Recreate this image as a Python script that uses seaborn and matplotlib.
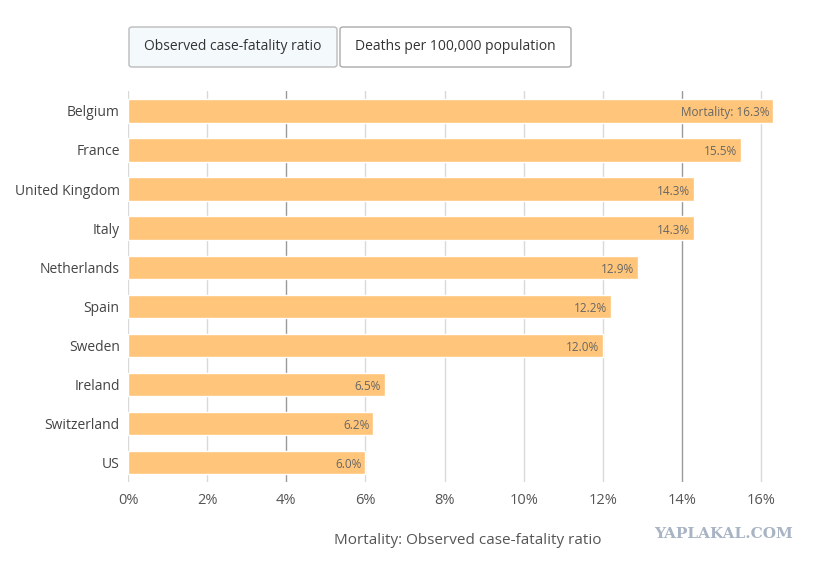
import matplotlib
matplotlib.use("Agg")
import matplotlib.pyplot as plt
import seaborn as sns
import pandas as pd
from matplotlib.patches import FancyBboxPatch

countries = ["Belgium", "France", "United Kingdom", "Italy", "Netherlands",
             "Spain", "Sweden", "Ireland", "Switzerland", "US"]
values = [16.3, 15.5, 14.3, 14.3, 12.9, 12.2, 12.0, 6.5, 6.2, 6.0]
ticks = [0, 2, 4, 6, 8, 10, 12, 14, 16]

df = pd.DataFrame({"country": countries, "value": values})

sns.set_style("white")
plt.rcParams['font.family'] = ['Open Sans', 'DejaVu Sans']

fig = plt.figure(figsize=(8.19, 5.64), dpi=100)
ax = fig.add_axes([0.1563, 0.145, 0.802, 0.693])

sns.barplot(data=df, x="value", y="country", color="#ffc57a", saturation=1,
            width=0.6, ax=ax, zorder=2)

for t in ticks:
    c = "#999999" if t in (4, 14) else "#d9d9d9"
    ax.axvline(t, color=c, lw=1, zorder=1)

for i, v in enumerate(values):
    txt = f"Mortality: {v:.1f}%" if i == 0 else f"{v:.1f}%"
    ax.text(v - 0.1, i + 0.05, txt, ha="right", va="center", fontsize=8.5,
            color="#666666", zorder=3)

ax.set_xlim(0, 16.6)
ax.set_ylim(9.5, -0.5)
ax.set_xticks(ticks)
ax.set_xticklabels([f"{t}%" for t in ticks], fontsize=10.5, color="#555555")
ax.tick_params(axis="y", labelsize=10, labelcolor="#444444", length=0, pad=6)
ax.tick_params(axis="x", length=0, pad=8)
ax.set_ylabel("")
ax.set_xlabel("Mortality: Observed case-fatality ratio", fontsize=11,
              color="#555555")
ax.xaxis.set_label_coords(0.517, -0.13)
for s in ax.spines.values():
    s.set_visible(False)

# tab buttons
b1 = FancyBboxPatch((129 / 819, 1 - 67 / 564), 208 / 819, 40 / 564,
                    boxstyle="round,pad=0,rounding_size=0.004",
                    transform=fig.transFigure, fc="#f4f9fc", ec="#bbbbbb", lw=1)
b2 = FancyBboxPatch((340 / 819, 1 - 67 / 564), 231 / 819, 40 / 564,
                    boxstyle="round,pad=0,rounding_size=0.004",
                    transform=fig.transFigure, fc="white", ec="#aaaaaa", lw=1)
fig.patches.extend([b1, b2])
fig.text(233 / 819, 1 - 46 / 564, "Observed case-fatality ratio", ha="center",
         va="center", fontsize=10, color="#333333")
fig.text(455 / 819, 1 - 46 / 564, "Deaths per 100,000 population", ha="center",
         va="center", fontsize=10, color="#333333")
fig.text(724 / 819, 1 - 534 / 564, "YAPLAKAL.COM", ha="center", va="center",
         fontsize=11, color="#a8b4c4", fontweight="bold", family="DejaVu Serif")

fig.savefig("out.png", dpi=100)
